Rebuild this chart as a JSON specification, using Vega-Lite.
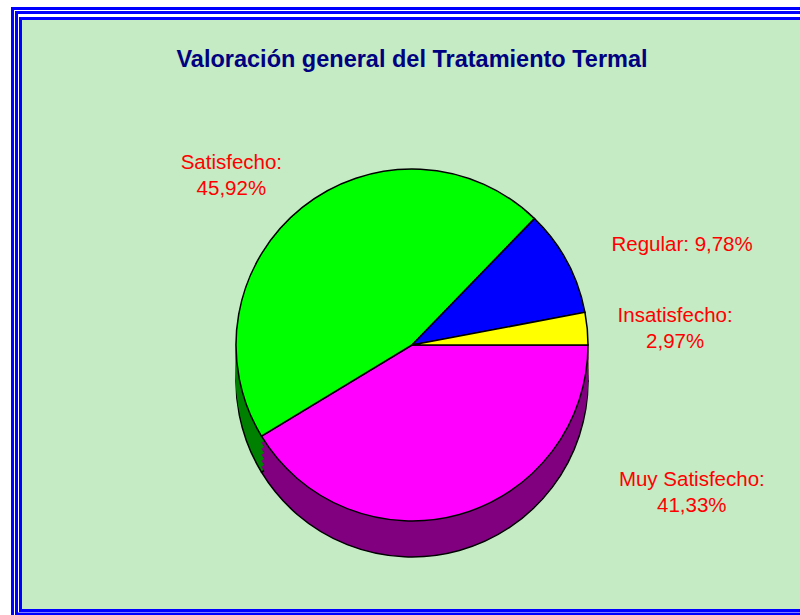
{
  "$schema": "https://vega.github.io/schema/vega-lite/v6.json",
  "width": 780,
  "height": 592,
  "autosize": {"type": "none"},
  "padding": {"left": 20, "top": 18, "right": 0, "bottom": 5},
  "background": "#FFFFFF",
  "view": {"fill": "#C4EBC4", "stroke": "transparent"},
  "config": {
    "view": {"fill": "#C4EBC4", "stroke": "transparent"},
    "font": "Liberation Sans",
    "axis": {"domain": true, "domainColor": "#0000FF", "domainWidth": 3, "domainCap": "butt", "ticks": false, "labels": false, "grid": false}
  },
  "title": {
    "text": "Valoración general del Tratamiento Termal",
    "fontSize": 23.5,
    "fontWeight": "bold",
    "color": "#000080",
    "font": "Liberation Sans",
    "anchor": "middle",
    "frame": "group",
    "baseline": "alphabetic",
    "offset": -82,
    "dx": 2
  },
  "data": {
    "values": [
      {"categoria": "Muy Satisfecho", "orden": 1, "porcentaje": 41.33, "etiqueta": "Muy Satisfecho:\n41,33%"},
      {"categoria": "Satisfecho", "orden": 2, "porcentaje": 45.92, "etiqueta": "Satisfecho:\n45,92%"},
      {"categoria": "Regular", "orden": 3, "porcentaje": 9.78, "etiqueta": "Regular: 9,78%"},
      {"categoria": "Insatisfecho", "orden": 4, "porcentaje": 2.97, "etiqueta": "Insatisfecho:\n2,97%"}
    ]
  },
  "layer": [
    {
      "mark": {"type": "point", "opacity": 0, "size": 0},
      "encoding": {
        "x": {"datum": 0, "type": "quantitative", "scale": {"domain": [0, 1], "range": [-1.5, 780]}, "axis": {"orient": "top", "offset": 0, "title": null}},
        "y": {"datum": 0, "type": "quantitative", "scale": {"domain": [0, 1], "range": [593.5, -1.5]}, "axis": {"orient": "left", "offset": 0, "title": null}}
      }
    },
    {
      "mark": {"type": "point", "opacity": 0, "size": 0},
      "encoding": {
        "x": {"datum": 0, "type": "quantitative", "scale": {"domain": [0, 1], "range": [-5.5, 780]}, "axis": {"orient": "top", "offset": 6, "title": null}},
        "y": {"datum": 0, "type": "quantitative", "scale": {"domain": [0, 1], "range": [597, -7.5]}, "axis": {"orient": "left", "offset": 4, "title": null}}
      }
    },
    {
      "mark": {"type": "point", "opacity": 0, "size": 0},
      "encoding": {
        "x": {"datum": 0, "type": "quantitative", "scale": {"domain": [0, 1], "range": [-9.5, 780]}, "axis": {"orient": "top", "offset": 10, "title": null}},
        "y": {"datum": 0, "type": "quantitative", "scale": {"domain": [0, 1], "range": [597, -11.5]}, "axis": {"orient": "left", "offset": 8, "title": null}}
      }
    },
    {
      "mark": {"type": "point", "opacity": 0, "size": 0},
      "encoding": {
        "x": {"datum": 0, "type": "quantitative", "scale": {"domain": [0, 1], "range": [-1.5, 780]}, "axis": {"orient": "bottom", "offset": 0, "title": null}}
      }
    },
    {
      "mark": {"type": "point", "opacity": 0, "size": 0},
      "encoding": {
        "x": {"datum": 0, "type": "quantitative", "scale": {"domain": [0, 1], "range": [-5.5, 780]}, "axis": {"orient": "bottom", "offset": 3.5, "title": null}}
      }
    },
    {
      "encoding": {
        "theta": {"field": "porcentaje", "type": "quantitative", "stack": true, "scale": {"range": [1.5707963, 7.8539816]}},
        "order": {"field": "orden", "type": "quantitative"}
      },
      "layer": [
        {
          "mark": {"type": "arc", "radius": 176, "xOffset": 2, "yOffset": 67, "stroke": "#000000", "strokeWidth": 1.5},
          "encoding": {"fill": {"field": "categoria", "type": "nominal", "scale": {"domain": ["Muy Satisfecho", "Satisfecho", "Regular", "Insatisfecho"], "range": ["#800080", "#008000", "#000080", "#808000"]}, "legend": null}}
        },
        {
          "mark": {"type": "arc", "radius": 176, "xOffset": 2, "yOffset": 61, "strokeWidth": 1},
          "encoding": {
            "fill": {"field": "categoria", "type": "nominal", "legend": null},
            "stroke": {"field": "categoria", "type": "nominal", "scale": {"domain": ["Muy Satisfecho", "Satisfecho", "Regular", "Insatisfecho"], "range": ["#800080", "#008000", "#000080", "#808000"]}, "legend": null}
          }
        },
        {
          "mark": {"type": "arc", "radius": 176, "xOffset": 2, "yOffset": 55, "strokeWidth": 1},
          "encoding": {"fill": {"field": "categoria", "type": "nominal", "legend": null}, "stroke": {"field": "categoria", "type": "nominal", "legend": null}}
        },
        {
          "mark": {"type": "arc", "radius": 176, "xOffset": 2, "yOffset": 49, "strokeWidth": 1},
          "encoding": {"fill": {"field": "categoria", "type": "nominal", "legend": null}, "stroke": {"field": "categoria", "type": "nominal", "legend": null}}
        },
        {
          "mark": {"type": "arc", "radius": 176, "xOffset": 2, "yOffset": 43, "strokeWidth": 1},
          "encoding": {"fill": {"field": "categoria", "type": "nominal", "legend": null}, "stroke": {"field": "categoria", "type": "nominal", "legend": null}}
        },
        {
          "mark": {"type": "arc", "radius": 176, "xOffset": 2, "yOffset": 37, "strokeWidth": 1},
          "encoding": {"fill": {"field": "categoria", "type": "nominal", "legend": null}, "stroke": {"field": "categoria", "type": "nominal", "legend": null}}
        },
        {
          "mark": {"type": "arc", "radius": 176, "xOffset": 2, "yOffset": 31, "stroke": "#000000", "strokeWidth": 1.5},
          "encoding": {"color": {"field": "categoria", "type": "nominal", "scale": {"domain": ["Muy Satisfecho", "Satisfecho", "Regular", "Insatisfecho"], "range": ["#FF00FF", "#00FF00", "#0000FF", "#FFFF00"]}, "legend": null}}
        },
        {
          "mark": {
            "type": "text",
            "radius": 200,
            "xOffset": 2,
            "yOffset": 31,
            "fontSize": 20.5,
            "font": "Liberation Sans",
            "fill": "#FF0000",
            "lineBreak": "\n",
            "lineHeight": 26,
            "align": "center",
            "baseline": "alphabetic",
            "dx": {"expr": "datum.categoria === 'Satisfecho' ? -56 : datum.categoria === 'Regular' ? 94 : datum.categoria === 'Insatisfecho' ? 64 : 226"},
            "dy": {"expr": "datum.categoria === 'Satisfecho' ? -20 : datum.categoria === 'Regular' ? 1 : datum.categoria === 'Insatisfecho' ? -4 : -52"}
          },
          "encoding": {"text": {"field": "etiqueta", "type": "nominal"}}
        }
      ]
    }
  ],
  "resolve": {
    "scale": {"x": "independent", "y": "independent"},
    "axis": {"x": "independent", "y": "independent"}
  }
}
